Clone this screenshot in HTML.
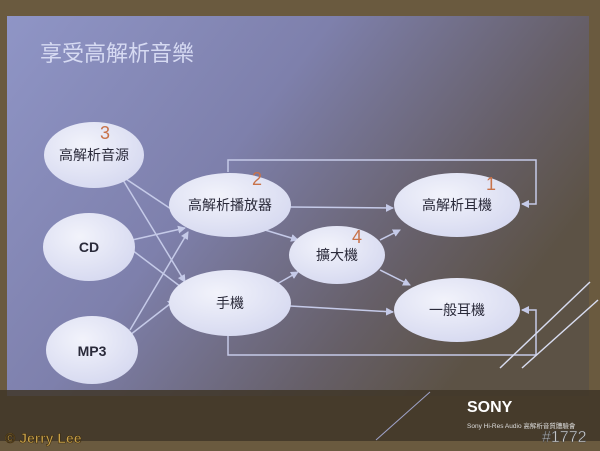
<!DOCTYPE html>
<html><head><meta charset="utf-8"><style>
body{margin:0;width:600px;height:451px;overflow:hidden;background:#6a5a3f;font-family:"Liberation Sans","Noto Sans CJK TC",sans-serif}
</style></head><body>
<svg width="600" height="451" viewBox="0 0 600 451" style="position:absolute;left:0;top:0">
<defs>
<linearGradient id="g" x1="0" y1="0" x2="1" y2="0.5">
<stop offset="0" stop-color="#8f95c6"/><stop offset="0.45" stop-color="#7e80ac"/><stop offset="0.8" stop-color="#665f68"/><stop offset="1" stop-color="#5c5245"/>
</linearGradient>
<radialGradient id="e" cx="0.4" cy="0.35" r="0.7"><stop offset="0" stop-color="#f2f3fb"/><stop offset="1" stop-color="#d6d9f0"/></radialGradient>
<marker id="a" markerWidth="8" markerHeight="8" refX="7" refY="4" orient="auto" markerUnits="userSpaceOnUse"><path d="M0,0L8,4L0,8z" fill="#c5cae8"/></marker>
</defs>
<rect x="0" y="0" width="600" height="451" fill="#6a5a3f"/>
<rect x="7" y="16" width="582" height="380" fill="url(#g)"/>
<text x="40" y="61" font-size="22" fill="#d6daf2">享受高解析音樂</text>
<g stroke="#c5cae8" stroke-width="1.5" fill="none" marker-end="url(#a)">
<line x1="120" y1="175" x2="180" y2="215"/>
<line x1="120" y1="175" x2="185" y2="282"/>
<line x1="132" y1="240" x2="185" y2="228"/>
<line x1="132" y1="250" x2="185" y2="290"/>
<line x1="130" y1="330" x2="188" y2="232"/>
<line x1="130" y1="335" x2="175" y2="300"/>
<line x1="290" y1="207" x2="393" y2="208"/>
<line x1="265" y1="230" x2="298" y2="240"/>
<line x1="270" y1="288" x2="298" y2="272"/>
<line x1="290" y1="306" x2="393" y2="312"/>
<line x1="380" y1="240" x2="400" y2="230"/>
<line x1="380" y1="270" x2="410" y2="285"/>
<polyline points="228,172 228,160 536,160 536,204 522,204"/>
<polyline points="228,332 228,355 536,355 536,310 522,310"/>
</g>
<g fill="url(#e)">
<ellipse cx="94" cy="155" rx="50" ry="33"/>
<ellipse cx="89" cy="247" rx="46" ry="34"/>
<ellipse cx="92" cy="350" rx="46" ry="34"/>
<ellipse cx="230" cy="205" rx="61" ry="32"/>
<ellipse cx="230" cy="303" rx="61" ry="33"/>
<ellipse cx="337" cy="255" rx="48" ry="29"/>
<ellipse cx="457" cy="205" rx="63" ry="32"/>
<ellipse cx="457" cy="310" rx="63" ry="32"/>
</g>
<g font-size="14" fill="#2a2a3a" text-anchor="middle">
<text x="94" y="160">高解析音源</text>
<text x="89" y="252" font-weight="bold">CD</text>
<text x="92" y="356" font-weight="bold">MP3</text>
<text x="230" y="210">高解析播放器</text>
<text x="230" y="308">手機</text>
<text x="337" y="260">擴大機</text>
<text x="457" y="210">高解析耳機</text>
<text x="457" y="315">一般耳機</text>
</g>
<g font-size="18" fill="#c8724a">
<text x="100" y="139">3</text><text x="252" y="185">2</text><text x="352" y="243">4</text><text x="486" y="190">1</text>
</g>
<line x1="500" y1="368" x2="590" y2="282" stroke="#d8dcf0" stroke-width="1.5"/>
<line x1="522" y1="368" x2="598" y2="300" stroke="#d8dcf0" stroke-width="1.5"/>
<rect x="0" y="390" width="600" height="51" fill="#3f3628" opacity="0.85"/>
<line x1="376" y1="440" x2="430" y2="392" stroke="#9ea2c8" stroke-width="1"/>
<text x="467" y="412" font-size="16" font-weight="bold" fill="#fff">SONY</text>
<text x="467" y="428" font-size="6.5" fill="#ddd">Sony Hi-Res Audio 高解析音質體驗會</text>
<text x="542" y="442" font-size="16" fill="#ddd" stroke="#444" stroke-width="0.5">#1772</text>
<text x="5" y="443" font-size="14" font-weight="bold" fill="#c9a24a" stroke="#3a2a10" stroke-width="0.6">© Jerry Lee</text>
</svg>
</body></html>
